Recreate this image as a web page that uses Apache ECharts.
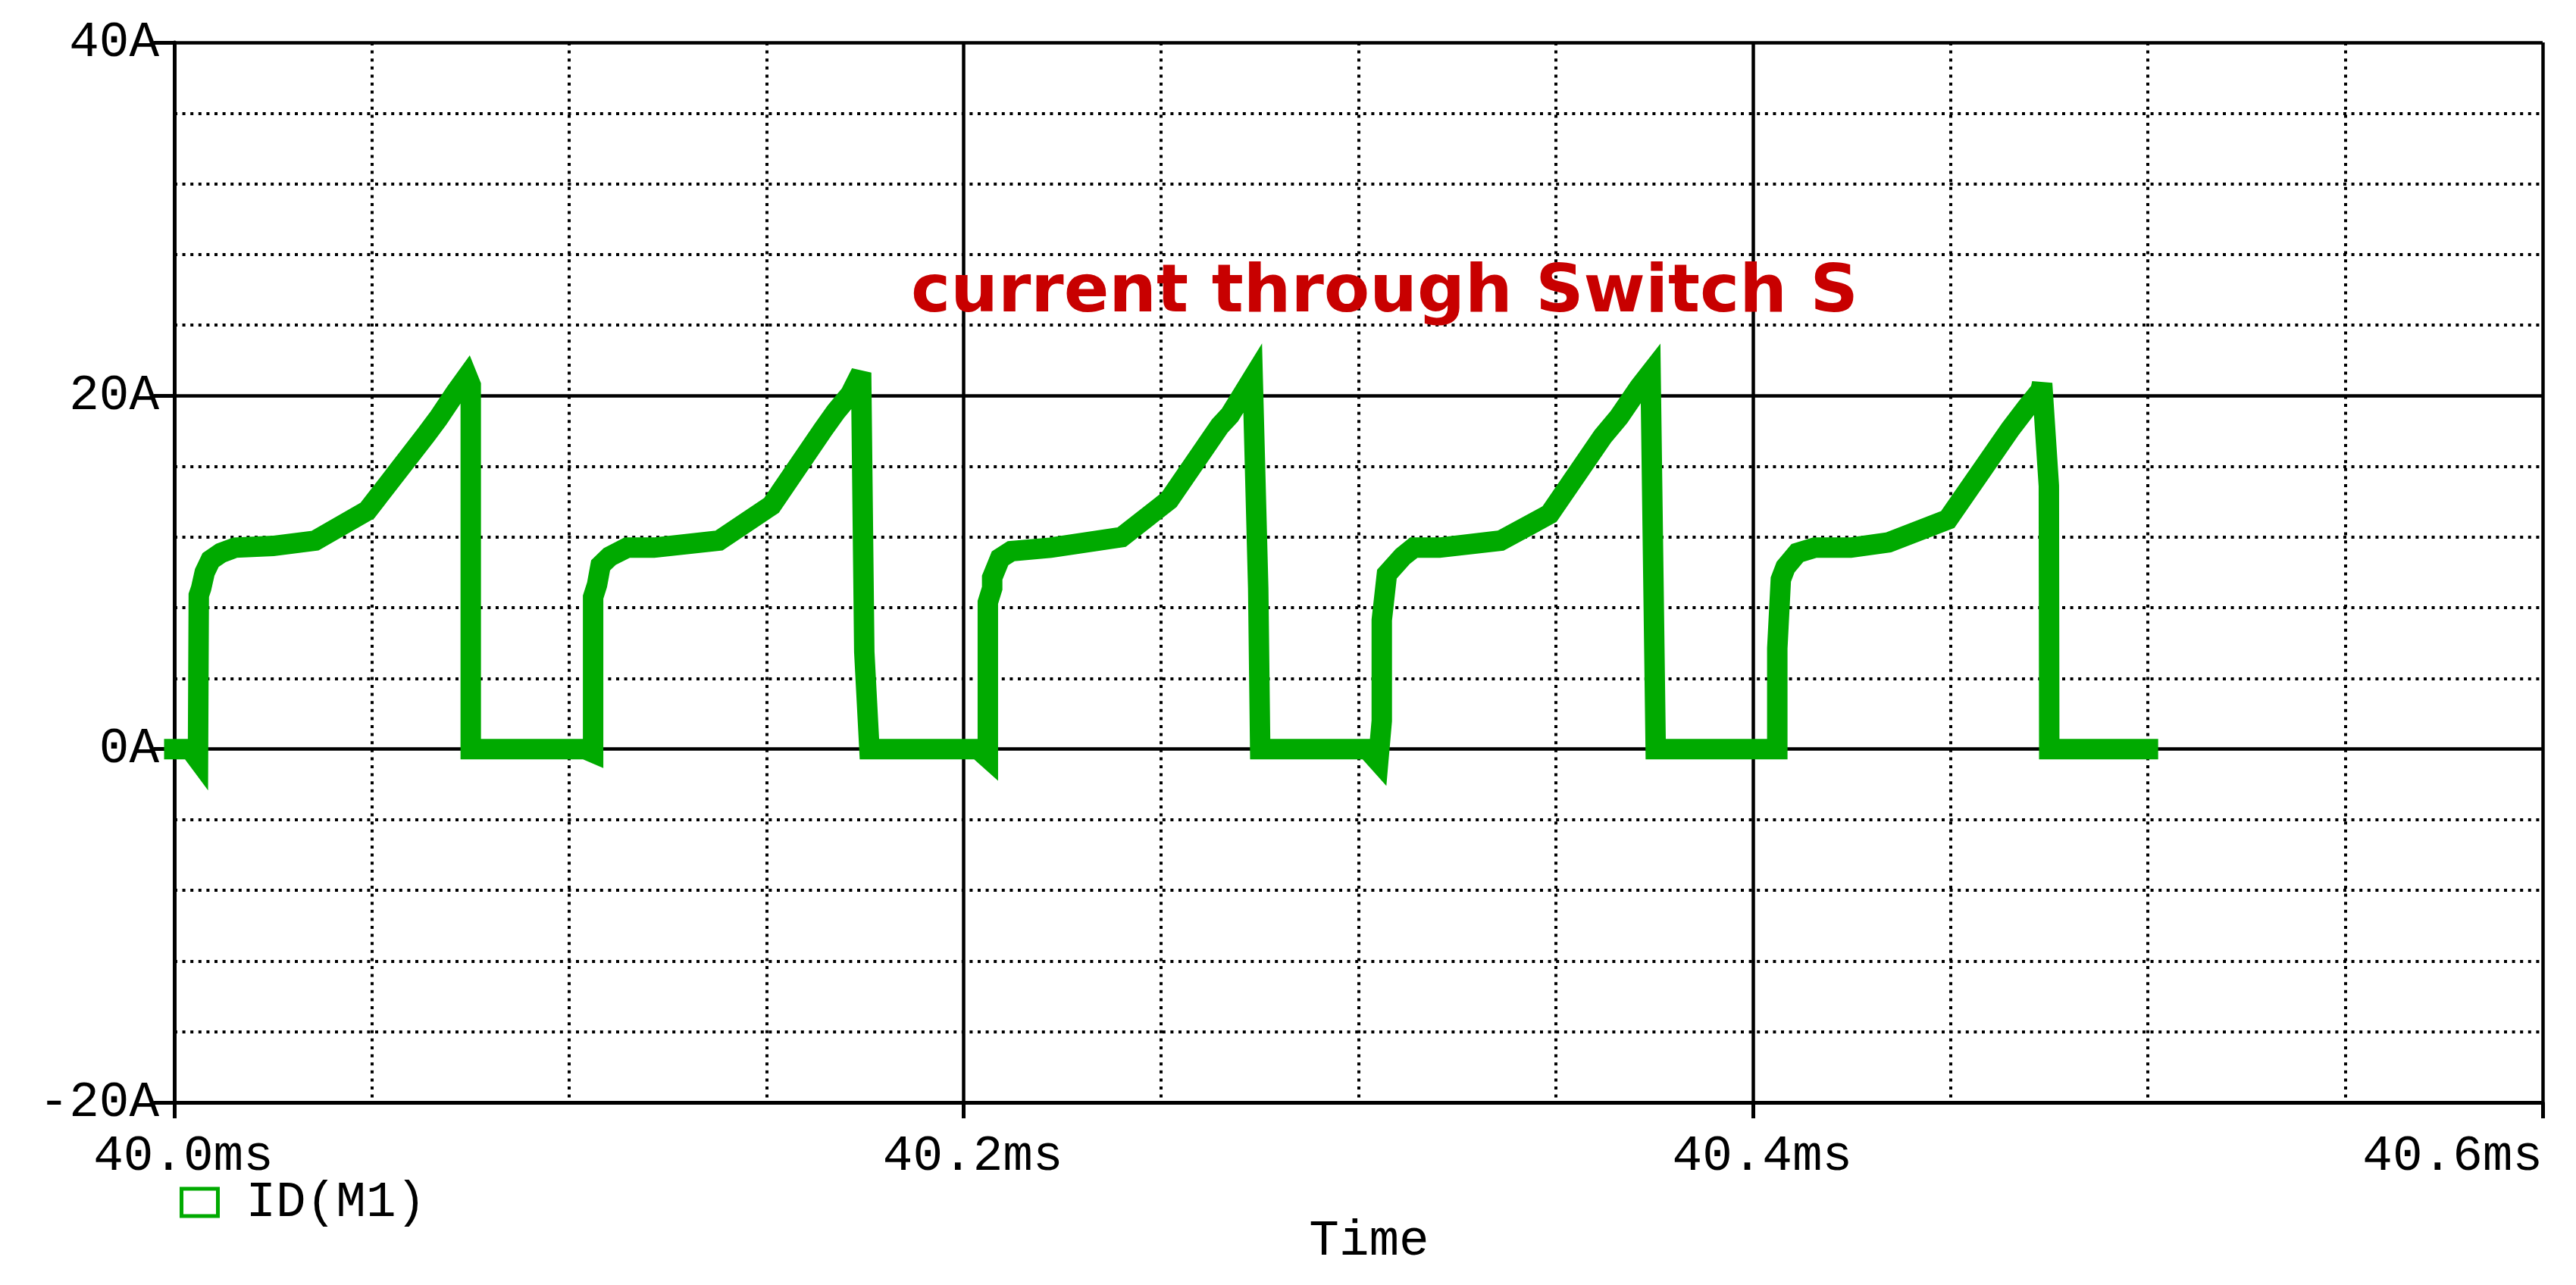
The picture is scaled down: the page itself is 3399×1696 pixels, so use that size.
<!DOCTYPE html>
<html>
<head>
<meta charset="utf-8">
<title>current through Switch S</title>
<script src="https://cdn.jsdelivr.net/npm/echarts@6.0.0/dist/echarts.min.js"></script>
<style>
  html, body { margin: 0; padding: 0; background: #ffffff; }
  #chart { width: 3399px; height: 1696px; }
</style>
</head>
<body>
<div id="chart"></div>
<script>
// ---- Data (time in ms, current in A) ----
const chartTitle = 'current through Switch S';
const seriesName = 'ID(M1)';
const axisXName = 'Time';
const xTicks = [40.0, 40.2, 40.4, 40.6];       // ms
const yTicks = [-20, 0, 20, 40];               // A

const pulse1 = [
  [40.0000, 0], [40.0040, 0], [40.0060, -0.6], [40.0062, 8.7], [40.0068, 9.1],
  [40.0077, 10.0], [40.0092, 10.7], [40.0118, 11.1], [40.0154, 11.4], [40.0250, 11.5],
  [40.0357, 11.8], [40.0489, 13.5], [40.0638, 17.8], [40.0668, 18.7], [40.0713, 20.2],
  [40.0742, 21.1], [40.0751, 20.6], [40.0751, 0]
];
const pulse2 = [
  [40.1040, 0], [40.1061, -0.2], [40.1061, 8.6], [40.1071, 9.3], [40.1080, 10.4],
  [40.1103, 10.9], [40.1147, 11.4], [40.1215, 11.4], [40.1380, 11.8], [40.1513, 13.8],
  [40.1644, 18.1], [40.1676, 19.1], [40.1713, 20.1], [40.1740, 21.3], [40.1748, 5.5],
  [40.1761, 0]
];
const pulse3 = [
  [40.2036, 0], [40.2061, -0.5], [40.2061, 8.3], [40.2072, 9.1], [40.2072, 9.7],
  [40.2092, 10.8], [40.2120, 11.2], [40.2220, 11.4], [40.2400, 12.0], [40.2520, 14.1],
  [40.2649, 18.3], [40.2674, 18.9], [40.2732, 21.0], [40.2746, 9.1], [40.2751, 0]
];
const pulse4 = [
  [40.3022, 0], [40.3050, -0.7], [40.3059, 1.6], [40.3059, 7.3], [40.3072, 9.9],
  [40.3112, 10.9], [40.3140, 11.4], [40.3205, 11.4], [40.3360, 11.8], [40.3484, 13.3],
  [40.3619, 17.7], [40.3660, 18.8], [40.3712, 20.5], [40.3740, 21.3], [40.3753, 0]
];
const pulse5 = [
  [40.4061, 0], [40.4061, 5.7], [40.4070, 9.6], [40.4082, 10.3], [40.4112, 11.1],
  [40.4156, 11.4], [40.4247, 11.4], [40.4343, 11.7], [40.4493, 13.0], [40.4651, 18.1],
  [40.4692, 19.3], [40.4728, 20.3], [40.4732, 20.7], [40.4749, 14.9], [40.4750, 0],
  [40.5000, 0]
];

// ---- Chart ----
const currentData = [].concat(pulse1, pulse2, pulse3, pulse4, pulse5);

const monoFont = '"Liberation Mono", "DejaVu Sans Mono", monospace';
const GREEN = '#00aa00';

const chart = echarts.init(document.getElementById('chart'), null, { renderer: 'svg', width: 3399, height: 1696 });

const option = {
  backgroundColor: '#ffffff',
  animation: false,
  grid: { left: 230, right: 44, top: 56, bottom: 241, containLabel: false },
  xAxis: {
    type: 'value',
    min: xTicks[0],
    max: xTicks[xTicks.length - 1],
    interval: 0.2,
    name: axisXName,
    nameLocation: 'middle',
    nameGap: 150,
    nameTextStyle: { fontFamily: monoFont, fontSize: 66, color: '#000', padding: [0, 0, 0, 28] },
    axisLine: { show: true, onZero: false, lineStyle: { color: '#000', width: 5 } },
    axisTick: { show: true, inside: false, length: 21, lineStyle: { color: '#000', width: 5 } },
    axisLabel: {
      fontFamily: monoFont, fontSize: 66, color: '#000', margin: 38,
      padding: [0, 0, 0, 24],
      alignMaxLabel: 'right',
      formatter: function (v) { return v.toFixed(1) + 'ms'; }
    },
    splitLine: { show: true, lineStyle: { color: '#000', width: 4.5, type: 'solid' } },
    minorTick: { show: false, splitNumber: 4 },
    minorSplitLine: { show: true, lineStyle: { color: '#000', width: 4, type: [4, 6.6] } }
  },
  yAxis: {
    type: 'value',
    min: yTicks[0],
    max: yTicks[yTicks.length - 1],
    interval: 20,
    axisLine: { show: true, onZero: false, lineStyle: { color: '#000', width: 5 } },
    axisTick: { show: true, inside: false, length: 27, lineStyle: { color: '#000', width: 5 } },
    axisLabel: {
      fontFamily: monoFont, fontSize: 66, color: '#000', margin: 20,
      padding: [24, 0, 0, 0],
      formatter: function (v) { return v + 'A'; }
    },
    splitLine: { show: true, lineStyle: { color: '#000', width: 4.5, type: 'solid' } },
    minorTick: { show: false, splitNumber: 5 },
    minorSplitLine: { show: true, lineStyle: { color: '#000', width: 4, type: [4, 6.6] } }
  },
  legend: {
    show: true,
    left: 232,
    top: 1549,
    orient: 'horizontal',
    icon: 'rect',
    itemWidth: 48,
    itemHeight: 36,
    itemStyle: { color: 'transparent', borderColor: GREEN, borderWidth: 5 },
    textStyle: { fontFamily: monoFont, fontSize: 66, color: '#000', padding: [8, 0, 0, 32] },
    data: [seriesName]
  },
  graphic: [
    {
      type: 'text',
      x: 1827,
      y: 380,
      silent: true,
      z: 50,
      style: {
        text: chartTitle,
        fill: '#c80000',
        font: 'bold 88px "DejaVu Sans", "Liberation Sans", sans-serif',
        textAlign: 'center',
        textVerticalAlign: 'middle',
        align: 'center',
        verticalAlign: 'middle'
      }
    }
  ],
  series: [
    {
      name: seriesName,
      type: 'line',
      data: currentData,
      showSymbol: false,
      symbol: 'none',
      smooth: false,
      clip: true,
      z: 10,
      lineStyle: { color: GREEN, width: 27, cap: 'square', join: 'miter', miterLimit: 10 },
      itemStyle: { color: GREEN },
      emphasis: { disabled: true }
    }
  ]
};

chart.setOption(option);
</script>
</body>
</html>
